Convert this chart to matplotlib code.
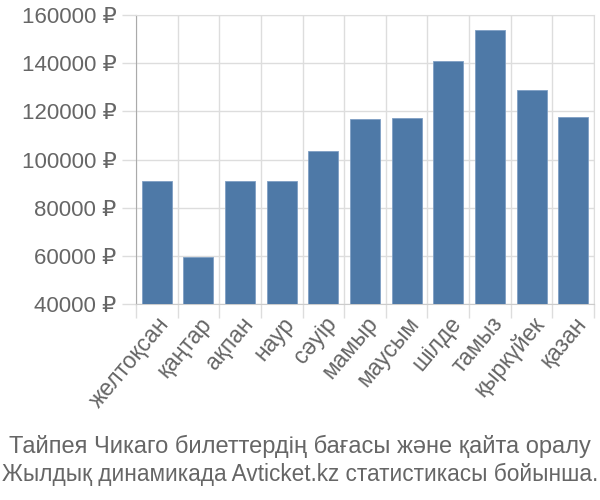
import matplotlib
matplotlib.use("Agg")
import matplotlib.pyplot as plt
from matplotlib.ticker import FuncFormatter

months = ["желтоқсан", "қаңтар", "ақпан", "наур", "сәуір", "мамыр",
          "маусым", "шілде", "тамыз", "қыркүйек", "қазан"]
prices = [91000, 59600, 91000, 91000, 103400, 116900, 117300, 140900, 153900, 128900, 117700]
yticks = [40000, 60000, 80000, 100000, 120000, 140000, 160000]
title_lines = ["Тайпея Чикаго билеттердің бағасы және қайта оралу",
               "Жылдық динамикада Avticket.kz статистикасы бойынша."]

plt.rcParams['font.family'] = ['Liberation Sans', 'DejaVu Sans']
text_color = "#666666"
grid_color = "#dddddd"

fig = plt.figure(figsize=(6, 5), dpi=100)
ax = fig.add_axes([136/600, 1-304/500, (594-136)/600, (304-15)/500])

x = list(range(len(months)))
ax.bar(x, prices, width=0.72, color="#4e79a7", edgecolor="#7f9fc4", linewidth=0.6, zorder=3)
ax.set_xlim(-0.5, len(months) - 0.5)
ax.set_ylim(40000, 160000)
ax.set_yticks(yticks)
ax.yaxis.set_major_formatter(FuncFormatter(lambda v, p: f"{int(v)} ₽"))
ax.set_xticks([i - 0.5 for i in range(len(months) + 1)], minor=False)
ax.set_xticklabels([])
ax.set_xticks(x, minor=True)
ax.set_xticklabels(months, minor=True, rotation=50, ha="right", va="top", rotation_mode="anchor",
                   fontsize=16.5, color=text_color)
ax.tick_params(axis="x", which="minor", length=0, pad=6)
ax.tick_params(axis="x", which="major", length=10, color=grid_color, width=1)
ax.tick_params(axis="y", length=10, color=grid_color, width=1, labelsize=16, labelcolor=text_color, pad=4)
ax.grid(True, which="major", color=grid_color, linewidth=1, zorder=0)
for s in ["top", "right"]:
    ax.spines[s].set_color(grid_color)
ax.spines["bottom"].set_color("#cccccc")
ax.spines["left"].set_color("#aaaaaa")

fig.text(0.5, 1 - 446/500, title_lines[0], ha="center", va="center", fontsize=17, color=text_color)
fig.text(0.5, 1 - 474/500, title_lines[1], ha="center", va="center", fontsize=16.3, color=text_color)

fig.savefig("out.png", dpi=100)
